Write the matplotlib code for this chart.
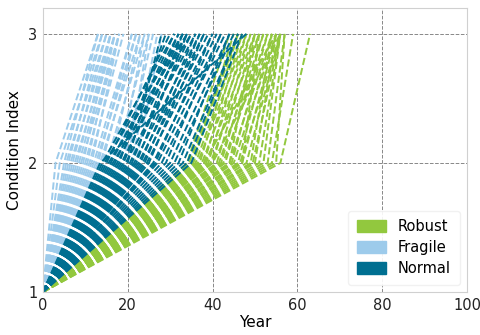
import matplotlib.pyplot as plt
from matplotlib.patches import Patch

# years at which each asset reaches condition 2 and condition 3
robust_t2 = [34, 34.5, 35, 35.5, 36, 36.5, 37, 37.5, 38, 38.5, 39, 39.5, 40, 41, 41.5, 42, 42.5,
             43, 44, 44.5, 45, 46, 46.5, 47, 48, 49, 49.5, 50, 51, 52, 54, 55, 56,
             38, 40, 44, 47, 53]
robust_t3 = [44, 46, 46, 45, 47, 48, 46, 49, 47, 50, 48, 51, 49, 50, 52, 51, 53,
             52, 54, 53, 55, 54, 56, 55, 56, 54, 56, 55, 56, 56, 59, 57, 63,
             55, 56, 50, 51, 57]

fragile_t2 = [3, 4, 5, 5.5, 6, 6.5, 7, 7.5, 8, 8.5, 9, 9.5, 10, 10.5, 11, 11.5, 12, 12.5,
              13, 13.5, 14, 15, 16, 17, 18, 19, 20, 21, 22]
fragile_t3 = [13, 14, 13, 15, 14, 16, 15, 17, 16, 17, 18, 16, 18, 17, 19, 18, 21, 22,
              21, 23, 22, 24, 23, 25, 24, 26, 25, 27, 28]

normal_t2 = [13.5, 14, 14.5, 15, 15.5, 16, 16.5, 17, 17.5, 18, 18.5, 19, 19.5, 20, 20.5, 21, 21.5,
             22, 22.5, 23, 23.5, 24, 24.5, 25, 26, 26.5, 27, 28, 29, 30, 31, 32, 33, 34, 35]
normal_t3 = [48, 31, 33, 30, 34, 32, 35, 31, 33, 29, 34, 32, 36, 28, 35, 33, 37,
             34, 38, 36, 39, 37, 40, 38, 41, 40, 42, 43, 42, 44, 45, 44, 46, 46, 47]

condition = [1, 2, 3]
groups = ['Robust', 'Fragile', 'Normal']
colors = {'Robust': '#92c83e', 'Fragile': '#9dcbeb', 'Normal': '#006f91'}
data = {'Robust': (robust_t2, robust_t3),
        'Fragile': (fragile_t2, fragile_t3),
        'Normal': (normal_t2, normal_t3)}

fig = plt.figure(figsize=(4.81, 3.35), dpi=100)
ax = fig.add_axes([0.089, 0.128, 0.882, 0.848])

for g in groups:
    t2s, t3s = data[g]
    for t2, t3 in zip(t2s, t3s):
        ax.plot([0, t2, t3], condition, linestyle='--', color=colors[g], linewidth=1.4)

ax.set_xlim(0, 100)
ax.set_ylim(1, 3.2)
ax.set_xticks(range(0, 101, 20))
ax.set_yticks(condition)
ax.grid(True, linestyle='--', color='#888888', linewidth=0.7)
ax.tick_params(length=0, labelsize=10.5, colors='#222222', pad=4)
for s in ax.spines.values():
    s.set_color('#d0d0d0')
ax.set_xlabel('Year', fontsize=11, labelpad=2)
ax.set_ylabel('Condition Index', fontsize=11)

handles = [Patch(color=colors[g], label=g) for g in groups]
leg = ax.legend(handles=handles, loc='lower right', fontsize=10.5, frameon=True,
                handlelength=2.0, handleheight=0.9, borderpad=0.6, labelspacing=0.4,
                bbox_to_anchor=(1.0, 0.0), borderaxespad=0.5)
leg.get_frame().set_edgecolor('#f0f0f0')
leg.get_frame().set_alpha(0.9)

fig.savefig('out.png', dpi=100)
